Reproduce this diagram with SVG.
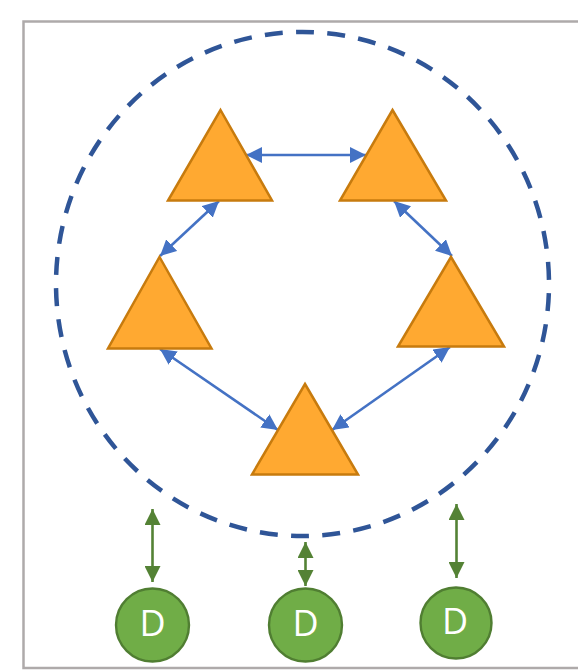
<svg xmlns="http://www.w3.org/2000/svg" width="578" height="670" viewBox="0 0 578 670">
<style>
.tri{fill:#ffa931;stroke:#c77b0e;stroke-width:2.5;stroke-linejoin:miter}
.blue{fill:none;stroke:#4472c4;stroke-width:2.6}
.green{fill:none;stroke:#548235;stroke-width:2.6}
.bh{fill:#4472c4}
.gh{fill:#548235}
.disk{fill:#70ad47;stroke:#507e32;stroke-width:2.4}
.lbl{font-family:"Open Sans","Noto Sans","Liberation Sans",sans-serif;font-size:36px;fill:#fff;text-anchor:middle}
</style>
<defs>
<marker id="ab" viewBox="0 0 16 16" refX="16" refY="8" markerWidth="16" markerHeight="16" markerUnits="userSpaceOnUse" orient="auto-start-reverse"><path class="bh" d="M0 0L16 8L0 16Z"/></marker>
<marker id="ag" viewBox="0 0 16 16" refX="16" refY="8" markerWidth="16" markerHeight="16" markerUnits="userSpaceOnUse" orient="auto-start-reverse"><path class="gh" d="M0 0L16 8L0 16Z"/></marker>
</defs>
<rect x="0" y="0" width="578" height="670" fill="#fff"/>
<path d="M578 21.500H23.500V668H578" fill="none" stroke="#aeaaaa" stroke-width="2.5"/>
<path id="ring" d="M302.500 536A246.500 252 0 0 1 302.500 32A246.500 252 0 0 1 302.500 536" pathLength="1566" fill="none" stroke="#2f5597" stroke-width="4.500" stroke-dasharray="18 13.320" stroke-dashoffset="6.500"/>
<g id="connectors">
<path class="blue" marker-start="url(#ab)" marker-end="url(#ab)" d="M246 155H366"/>
<path class="blue" marker-start="url(#ab)" marker-end="url(#ab)" d="M219 201L160 256"/>
<path class="blue" marker-start="url(#ab)" marker-end="url(#ab)" d="M394 201L452 256"/>
<path class="blue" marker-start="url(#ab)" marker-end="url(#ab)" d="M160 349L278 430"/>
<path class="blue" marker-start="url(#ab)" marker-end="url(#ab)" d="M450 347L332 430"/>
<path class="green" marker-start="url(#ag)" marker-end="url(#ag)" d="M152.500 509V582"/>
<path class="green" marker-start="url(#ag)" marker-end="url(#ag)" d="M305.500 542V586"/>
<path class="green" marker-start="url(#ag)" marker-end="url(#ag)" d="M456.500 504V578"/>
</g>
<g id="t1"><path class="tri" d="M220.500 110L272 200.500H168Z"/></g>
<g id="t2"><path class="tri" d="M392.500 110L446 200.500H340Z"/></g>
<g id="t3"><path class="tri" d="M159.500 257L211.500 348.500H108Z"/></g>
<g id="t4"><path class="tri" d="M451 257L504 346.500H398Z"/></g>
<g id="t5"><path class="tri" d="M305 384L358 474.500H252Z"/></g>
<g id="d1"><circle class="disk" cx="152.500" cy="625" r="36.500"/><text class="lbl" x="152.500" y="636">D</text></g>
<g id="d2"><circle class="disk" cx="305.500" cy="625" r="36.500"/><text class="lbl" x="305.500" y="636">D</text></g>
<g id="d3"><circle class="disk" cx="456" cy="623" r="35.500"/><text class="lbl" x="455" y="634">D</text></g>
</svg>
